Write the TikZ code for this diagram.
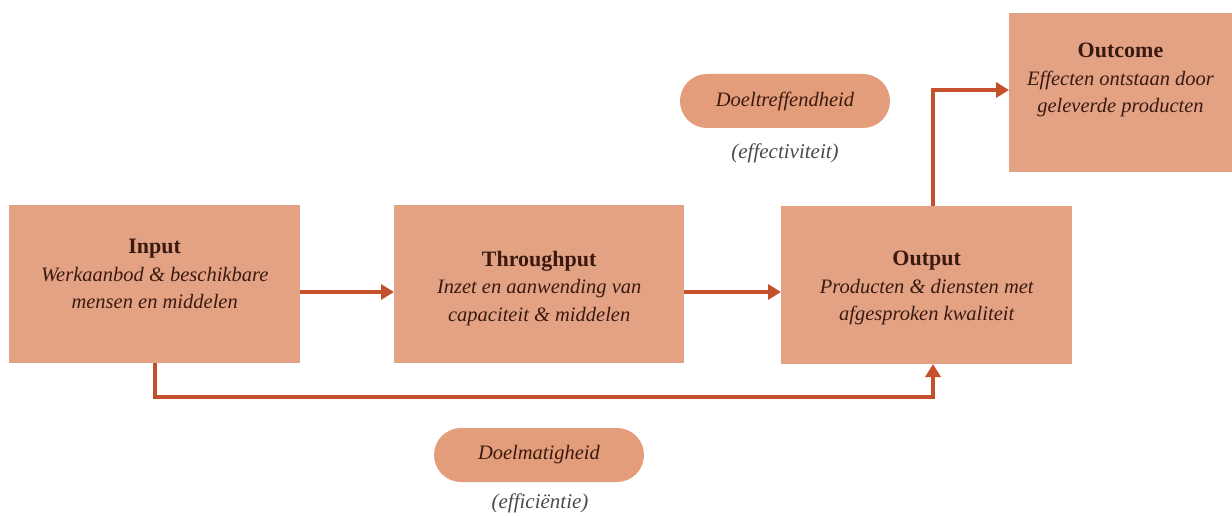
\documentclass[tikz,border=0pt]{standalone}
\usepackage{fontspec}
\setmainfont{Liberation Serif}
\usetikzlibrary{arrows.meta,positioning}
\definecolor{boxfill}{HTML}{E3A283}
\definecolor{pillfill}{HTML}{E39D7A}
\definecolor{flow}{HTML}{C4502C}
\definecolor{ink}{HTML}{3A1A10}
\definecolor{note}{HTML}{4A4A4A}
\newcommand{\headfont}{\fontsize{22}{27}\selectfont\bfseries}
\tikzset{
  stage/.style={draw=none, fill=boxfill, inner sep=0pt, anchor=north west},
  pill/.style={draw=none, fill=pillfill, rounded corners=27pt, inner sep=0pt,
    minimum width=210pt, minimum height=54pt, text=ink,
    font=\fontsize{20.5}{24}\selectfont\itshape},
  caption/.style={text=ink, align=center, font=\fontsize{20.5}{27.5}\selectfont\itshape},
  remark/.style={text=note, font=\fontsize{21}{24}\selectfont\itshape},
  flowline/.style={draw=flow, line width=3.5pt, -{Triangle[length=13pt,width=15pt]}},
}
\begin{document}
\begin{tikzpicture}[x=1pt,y=-1pt]
\useasboundingbox (0,0) rectangle (1232,516);
\begin{scope}
\clip (0,0) rectangle (1232,516);
% the four stages
\node[stage, minimum width=291pt, minimum height=158pt] (input) at (9,205) {};
\node[stage, minimum width=290pt, minimum height=158pt] (through) at (394,205) {};
\node[stage, minimum width=291pt, minimum height=158pt] (output) at (781,206) {};
\node[stage, minimum width=230pt, minimum height=159pt] (outcome) at (1009,13) {};
\end{scope}

\node[caption] (tin) at ([yshift=10pt]input.center)
  {{\headfont\upshape Input}\\Werkaanbod \& beschikbare\\mensen en middelen};
\node[caption] (tthrough) at ([yshift=-4pt]through.center)
  {{\headfont\upshape Throughput}\\Inzet en aanwending van\\capaciteit \& middelen};
\node[caption] (tout) at ([yshift=-3pt]output.center)
  {{\headfont\upshape Output}\\Producten \& diensten met\\afgesproken kwaliteit};
\node[caption] (toutcome) at (1120.5,80)
  {{\headfont\upshape Outcome}\\Effecten ontstaan door\\geleverde producten};

% performance measures
\node[pill] (doeltr) at (785,101) {Doeltreffendheid};
\node[remark] (effect) at (785,153) {(effectiviteit)};
\node[pill] (doelm) at (539,455) {Doelmatigheid};
\node[remark] (effic) at (540,503) {(efficiëntie)};

% flow between the stages
\coordinate (inlow) at (155,363);
\coordinate (outlow) at (933,364);
\coordinate (outtop) at (933,206);
\draw[flowline] (input.east |- 0,292) -- (through.west |- 0,292);
\draw[flowline] (through.east |- 0,292) -- (output.west |- 0,292);
\draw[flowline] (inlow) -- (155,397) -- (933,397) -- (outlow);
\draw[flowline] (outtop) -- (933,90) -- (outcome.west |- 0,90);
\end{tikzpicture}
\end{document}
